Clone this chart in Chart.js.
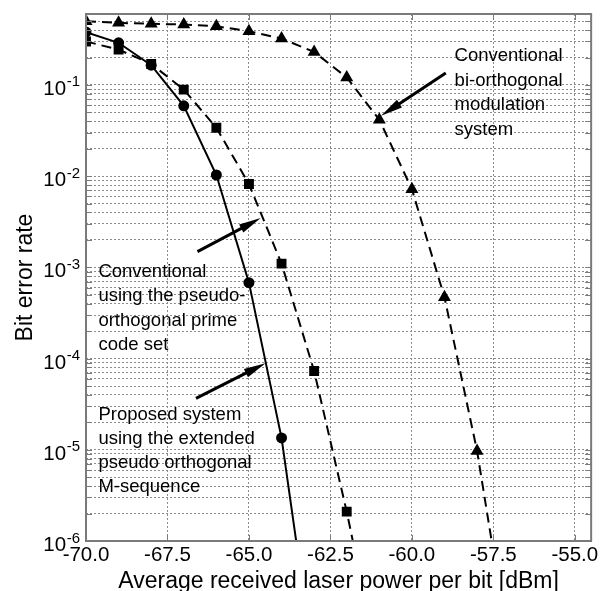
<!DOCTYPE html>
<html><head><meta charset="utf-8">
<script src="https://cdn.jsdelivr.net/npm/chart.js@4/dist/chart.umd.min.js"></script>
<style>html,body{margin:0;padding:0;background:#fff}canvas{display:block}</style>
</head><body>
<canvas id="c" width="601" height="591"></canvas>
<script>
// ---- data ----
const powerDbm = [-70,-69,-68,-67,-66,-65,-64,-63,-62,-61,-60,-59,-58,-57];
const proposedBer = [0.38,0.29,0.165,0.059,0.0103,6.8e-4,1.35e-5,4.1e-8];
const primeCodeBer = [0.30,0.244,0.17,0.089,0.034,0.0082,1.1e-3,7.3e-5,2.1e-6,4e-8];
const biOrthogonalBer = [0.50,0.48,0.468,0.46,0.44,0.388,0.323,0.23,0.121,0.0416,0.0072,4.7e-4,9.7e-6,6e-8];
const xTickValues = [-70,-67.5,-65,-62.5,-60,-57.5,-55];
const yDecadeExponents = [-6,-5,-4,-3,-2,-1];
const xTitle = 'Average received laser power per bit [dBm]';
const yTitle = 'Bit error rate';
const annotationTexts = [
  ['Conventional','bi-orthogonal','modulation','system'],
  ['Conventional','using the pseudo-','orthogonal prime','code set'],
  ['Proposed system','using the extended','pseudo orthogonal','M-sequence']
];

// ---- annotation placement (data coordinates) ----
const textAnchors = [
  {x:-58.69, y:0.1815, step:24.5},
  {x:-69.62, y:7.92e-4, step:24.5},
  {x:-69.62, y:2.14e-5, step:24.2}
];
const arrows = [
  {from:{x:-58.96, y:0.135}, to:{x:-60.945, y:0.046}},
  {from:{x:-66.58, y:1.49e-3}, to:{x:-64.64, y:3.47e-3}},
  {from:{x:-66.625, y:3.66e-5}, to:{x:-64.49, y:8.9e-5}}
];

const FONT = '"Liberation Sans", Arial, Helvetica, sans-serif';
const GRID = '#8c8c8c';
const FRAME = '#7a7a7a';

function pts(ys){ return ys.map((v,i)=>({x:powerDbm[i], y:v})); }

const decorPlugin = {
  id:'decor',
  afterDraw(chart){
    const {ctx, chartArea:a, scales:{x, y}} = chart;
    ctx.save();
    // frame
    ctx.strokeStyle = FRAME; ctx.lineWidth = 2; ctx.setLineDash([]);
    ctx.strokeRect(a.left, a.top, a.right-a.left, a.bottom-a.top);
    // inner tick marks
    ctx.lineWidth = 1;
    y.ticks.forEach(t=>{
      const py = Math.round(y.getPixelForValue(t.value))+0.5;
      ctx.beginPath();
      ctx.moveTo(a.left, py); ctx.lineTo(a.left+6, py);
      ctx.moveTo(a.right-6, py); ctx.lineTo(a.right, py);
      ctx.stroke();
    });
    x.ticks.forEach(t=>{
      const px = Math.round(x.getPixelForValue(t.value))+0.5;
      ctx.beginPath();
      ctx.moveTo(px, a.bottom); ctx.lineTo(px, a.bottom-6);
      ctx.moveTo(px, a.top); ctx.lineTo(px, a.top+6);
      ctx.stroke();
    });
    // y tick labels 10^e
    ctx.fillStyle = '#000';
    yDecadeExponents.forEach(e=>{
      const py = y.getPixelForValue(Math.pow(10,e));
      const sup = String(e);
      ctx.font = '15px ' + FONT;
      ctx.textAlign = 'right'; ctx.textBaseline = 'alphabetic';
      const supW = ctx.measureText(sup).width;
      ctx.fillText(sup, 80, py+1.5);
      ctx.font = '20.5px ' + FONT;
      ctx.fillText('10', 80 - supW - 0.5, py+10);
    });
    // annotation texts
    ctx.font = '18.5px ' + FONT;
    ctx.textAlign = 'left'; ctx.textBaseline = 'alphabetic';
    annotationTexts.forEach((lines, k)=>{
      const an = textAnchors[k];
      const px = x.getPixelForValue(an.x), py = y.getPixelForValue(an.y);
      lines.forEach((s,i)=>ctx.fillText(s, px, py + i*an.step));
    });
    // arrows
    arrows.forEach(ar=>{
      const x1 = x.getPixelForValue(ar.from.x), y1 = y.getPixelForValue(ar.from.y);
      const x2 = x.getPixelForValue(ar.to.x), y2 = y.getPixelForValue(ar.to.y);
      const ang = Math.atan2(y2-y1, x2-x1);
      const L = 22, W = 4.5;
      const bx = x2 - L*Math.cos(ang), by = y2 - L*Math.sin(ang);
      ctx.strokeStyle = '#000'; ctx.lineWidth = 3; ctx.lineCap = 'butt';
      ctx.beginPath(); ctx.moveTo(x1,y1); ctx.lineTo(bx + 6*Math.cos(ang), by + 6*Math.sin(ang)); ctx.stroke();
      ctx.fillStyle = '#000';
      ctx.beginPath();
      ctx.moveTo(x2,y2);
      ctx.lineTo(bx - W*Math.sin(ang), by + W*Math.cos(ang));
      ctx.lineTo(bx + W*Math.sin(ang), by - W*Math.cos(ang));
      ctx.closePath(); ctx.fill();
    });
    ctx.restore();
  }
};

const common = {borderColor:'#000', backgroundColor:'#000', borderWidth:2, pointBorderWidth:0, tension:0, clip:0, fill:false};

new Chart(document.getElementById('c'), {
  type:'line',
  data:{ datasets:[
    Object.assign({label:'Proposed system', data:pts(proposedBer), pointStyle:'circle', pointRadius:5.5}, common),
    Object.assign({label:'Conventional prime code', data:pts(primeCodeBer), pointStyle:'rect', pointRadius:7, borderDash:[10,6]}, common),
    Object.assign({label:'Conventional bi-orthogonal', data:pts(biOrthogonalBer), pointStyle:'triangle', pointRadius:7.5, borderDash:[10,6]}, common)
  ]},
  options:{
    responsive:false, animation:false, devicePixelRatio:1,
    layout:{padding:{top:14, right:9, left:0, bottom:0}},
    plugins:{legend:{display:false}, tooltip:{enabled:false}},
    scales:{
      x:{type:'linear', min:-70, max:-54.5,
        afterBuildTicks:s=>{ s.ticks = xTickValues.map(v=>({value:v})); },
        ticks:{callback:v=>Number(v).toFixed(1), font:{size:20.5, family:FONT}, color:'#000', padding:2.5, autoSkip:false, maxRotation:0},
        grid:{color:GRID, lineWidth:1, drawTicks:false},
        border:{display:false, dash:[2,2]},
        title:{display:true, text:xTitle, color:'#000', font:{size:23, family:FONT, lineHeight:0.8}, padding:0},
        afterFit:s=>{ s.height = 50; }
      },
      y:{type:'logarithmic', min:1e-6, max:0.6,
        afterBuildTicks:s=>{
          const t=[];
          yDecadeExponents.forEach(e=>{ for(let m=1;m<=9;m++){ const v=m*Math.pow(10,e); if(v<=0.6) t.push({value:v}); } });
          s.ticks = t;
        },
        ticks:{display:false},
        grid:{color:GRID, lineWidth:1, drawTicks:false},
        border:{display:false, dash:[2,2]},
        title:{display:true, text:yTitle, color:'#000', font:{size:23, family:FONT, lineHeight:1}, padding:{top:14.5, bottom:0}},
        afterFit:s=>{ s.width = 86; }
      }
    }
  },
  plugins:[decorPlugin]
});
</script>
</body></html>
